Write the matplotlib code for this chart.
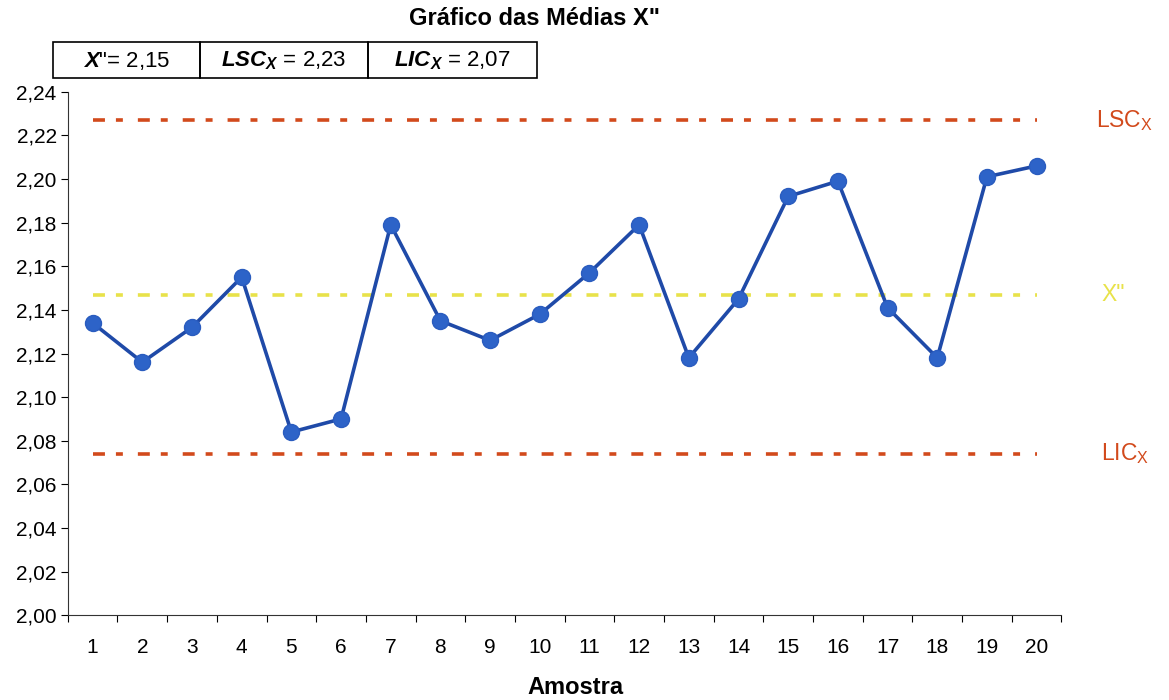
import numpy as np
import matplotlib.pyplot as plt
from matplotlib.patches import Rectangle

plt.rcParams['font.family'] = ['Liberation Sans', 'DejaVu Sans']
plt.rcParams['mathtext.fontset'] = 'custom'
plt.rcParams['mathtext.rm'] = 'Liberation Sans'
plt.rcParams['mathtext.it'] = 'Liberation Sans:italic'
plt.rcParams['mathtext.bf'] = 'Liberation Sans:bold:italic'
plt.rcParams['lines.scale_dashes'] = False

amostras = list(range(1, 21))
medias = [2.134, 2.116, 2.132, 2.155, 2.084, 2.090, 2.179, 2.135, 2.126, 2.138,
          2.157, 2.179, 2.118, 2.145, 2.192, 2.199, 2.141, 2.118, 2.201, 2.206]
lsc = 2.227
media_geral = 2.147
lic = 2.074
yticks = [2.00, 2.02, 2.04, 2.06, 2.08, 2.10, 2.12, 2.14, 2.16, 2.18, 2.20, 2.22, 2.24]

fig = plt.figure(figsize=(11.69, 7.0), dpi=100)
ax = fig.add_axes([0.058, 0.121, 0.85, 0.748])

red = '#d24a1c'
yellow = '#e8e24a'
dash = (8.6, 7.9, 5.0, 10.8)
ax.plot(amostras, [lsc] * len(amostras), color=red, lw=2.6, dashes=dash)
ax.plot(amostras, [media_geral] * len(amostras), color=yellow, lw=2.6, dashes=dash)
ax.plot(amostras, [lic] * len(amostras), color=red, lw=2.6, dashes=dash)
ax.plot(amostras, medias, color='#1f4aa8', lw=2.6, marker='o', markersize=11.5,
        markerfacecolor='#2d63c8', markeredgecolor='#2a5cbf')

ax.set_xlim(0.5, 20.5)
ax.set_ylim(2.00, 2.24)
ax.set_yticks(yticks)
ax.set_yticklabels([f'{v:.2f}'.replace('.', ',') for v in yticks], fontsize=15)
ax.set_xticks(np.arange(0.5, 21, 1))
ax.set_xticklabels([])
ax.set_xticks(amostras, minor=True)
ax.set_xticklabels([str(a) for a in amostras], minor=True, fontsize=15)
ax.tick_params(axis='x', which='minor', length=0, pad=16)
ax.tick_params(axis='x', which='major', length=5, direction='out')
ax.tick_params(axis='y', length=5, direction='out', pad=3)
for s in ['top', 'right']:
    ax.spines[s].set_visible(False)
ax.spines['left'].set_color('#333333')
ax.spines['bottom'].set_color('#333333')

fig.text(0.492, 1 - 687 / 700, 'Amostra', fontsize=17, fontweight='bold',
         ha='center', va='center')

fig.text(0.457, 0.974, 'Gráfico das Médias X"', fontsize=17, fontweight='bold',
         ha='center', va='center')

# caixa com os valores
cells = [(53, 200, r'$\mathbf{X}$"= 2,15'),
         (200, 368, r'$\mathbf{LSC_X}$ = 2,23'),
         (368, 537, r'$\mathbf{LIC_X}$ = 2,07')]
for x0, x1, txt in cells:
    fig.add_artist(Rectangle((x0 / 1169, 1 - 78 / 700), (x1 - x0) / 1169, 36 / 700,
                             transform=fig.transFigure, fill=False, lw=1.2, ec='black'))
    fig.text((x0 + x1) / 2 / 1169, 1 - 61 / 700, txt, fontsize=16, ha='center', va='center')

ax.text(21.2, lsc, r'LSC$_\mathrm{X}$', color=red, fontsize=16.5, va='center', ha='left')
ax.text(21.3, media_geral, 'X"', color=yellow, fontsize=16.5, va='center', ha='left')
ax.text(21.3, lic, r'LIC$_\mathrm{X}$', color=red, fontsize=16.5, va='center', ha='left')

fig.savefig('out.png', dpi=100)
